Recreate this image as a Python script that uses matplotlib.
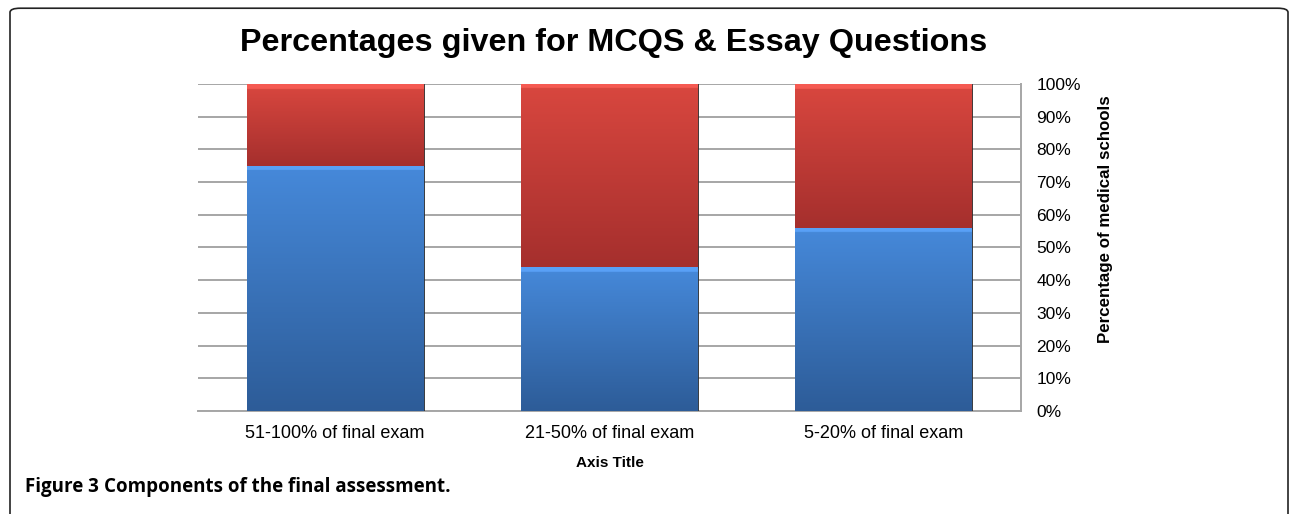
import numpy as np
import matplotlib
matplotlib.use("Agg")
import matplotlib.pyplot as plt
from matplotlib.colors import to_rgb
from matplotlib.patches import FancyBboxPatch
from matplotlib.ticker import PercentFormatter

# dados
categorias = ["51-100% of final exam", "21-50% of final exam", "5-20% of final exam"]
mcqs = [75, 44, 56]       # parte azul
essay = [25, 56, 44]      # parte vermelha
ticks_y = [0, 10, 20, 30, 40, 50, 60, 70, 80, 90, 100]

plt.rcParams["font.family"] = ["Liberation Sans", "DejaVu Sans"]


def gradiente(cor_topo, cor_base, altura, n=300, faixa=1.5):
    """Coluna RGB com brilho fino no topo (efeito bisel do Excel)."""
    c1 = np.array(to_rgb(cor_topo))
    c2 = np.array(to_rgb(cor_base))
    t = np.linspace(0, 1, n)[:, None]
    img = c1 * (1 - t) + c2 * t
    k = max(1, int(n * faixa / altura))
    img[:k] = np.clip(c1 * 1.06 + 0.06, 0, 1)
    return img[:, None, :]


def barra_gradiente(ax, x, base, altura, largura, cor_topo, cor_base):
    patch = ax.bar(x, altura, largura, bottom=base, color=cor_base,
                   edgecolor="#2a2a2a", linewidth=0.6, zorder=3)[0]
    img = gradiente(cor_topo, cor_base, altura)
    im = ax.imshow(img, extent=(x - largura / 2, x + largura / 2, base, base + altura),
                   aspect="auto", origin="upper", zorder=3.5, interpolation="bilinear")
    im.set_clip_path(patch)


fig = plt.figure(figsize=(12.9, 5.14), dpi=100)
ax = fig.add_axes([0.1535, 0.2004, 0.638, 0.6362])

x = np.arange(len(categorias))
largura = 0.645
for i in x:
    barra_gradiente(ax, i, 0, mcqs[i], largura, "#4689da", "#2d5c98")
    barra_gradiente(ax, i, mcqs[i], essay[i], largura, "#d9473f", "#a52f2d")

ax.set_xlim(-0.5, 2.5)
ax.set_ylim(0, 100)
ax.set_yticks(ticks_y)
ax.yaxis.set_major_formatter(PercentFormatter(decimals=0))
ax.yaxis.tick_right()
ax.yaxis.set_label_position("right")
ax.tick_params(axis="y", length=0, pad=11, labelsize=12.5)
ax.tick_params(axis="x", length=0, pad=10, labelsize=13)
ax.set_xticks(x)
ax.set_xticklabels(categorias)
ax.grid(axis="y", color="#a6a6a6", linewidth=1.4, zorder=0)
ax.set_axisbelow(True)
for lado in ["top", "left"]:
    ax.spines[lado].set_visible(False)
ax.spines["right"].set_color("#a6a6a6")
ax.spines["bottom"].set_color("#a6a6a6")
ax.spines["right"].set_linewidth(1.4)
ax.spines["bottom"].set_linewidth(1.4)

ax.set_ylabel("Percentage of medical schools", fontsize=12.2, fontweight="bold")
ax.yaxis.set_label_coords(1.094, 0.587)
ax.set_xlabel("Axis Title", fontsize=11, fontweight="bold", labelpad=10)

fig.text(0.4756, 0.916, "Percentages given for MCQS & Essay Questions",
         ha="center", va="center", fontsize=23.3, fontweight="bold")

# moldura arredondada
moldura = FancyBboxPatch((10 / 1290, -0.2), 1278 / 1290, 1.184,
                         boxstyle="round,pad=0,rounding_size=0.008",
                         transform=fig.transFigure, fill=False,
                         edgecolor="#222222", linewidth=1.2)
fig.patches.append(moldura)

t1 = fig.text(25 / 1290, 1 - 487 / 514, "Figure 3 ", ha="left", va="center",
              fontsize=13.5, fontweight="bold", family=["Open Sans", "DejaVu Sans"])
ax.annotate("Components of the final assessment.", xy=(1, 0), xycoords=t1,
            va="bottom", ha="left", fontsize=13.5, fontweight="bold",
            family=["Open Sans", "DejaVu Sans"], annotation_clip=False)

fig.savefig("out.png", dpi=100)
